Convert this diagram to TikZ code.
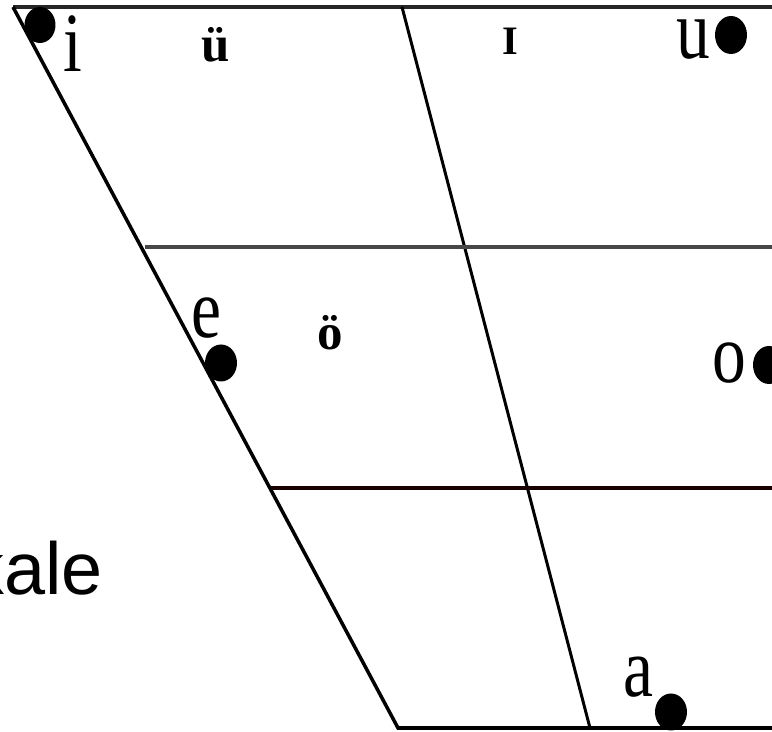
\documentclass[tikz,border=0pt]{standalone}
\usepackage{fontspec}
\setsansfont{Liberation Sans}
\newfontfamily\vowelfont{Liberation Serif}
\usetikzlibrary{positioning}
\tikzset{
  edge/.style={line width=2pt, black},
  vowel/.style={inner sep=0pt, anchor=base, font=\vowelfont\fontsize{48}{50}\selectfont},
  rounded/.style={inner sep=0pt, anchor=base, font=\vowelfont\bfseries\fontsize{29}{30}\selectfont},
  vdot/.style={fill=black}
}
\newcommand{\narrow}[1]{\scalebox{0.8}[1]{#1}}

\begin{document}
\begin{tikzpicture}[x=0.02cm, y=-0.02cm]
        \useasboundingbox (0,0) rectangle (772,732);
        % corners of the chart
        \coordinate (tl) at (13,7);
        \coordinate (tr) at (772,7);
        \coordinate (bl) at (398,728);
        \coordinate (br) at (772,728);
        \coordinate (mt) at (402,7);
        \coordinate (mb) at (590,728);
        \coordinate (hl1) at (145,247);
        \coordinate (hr1) at (772,247);
        \coordinate (hl2) at (271,488);
        \coordinate (hr2) at (772,488);
        % frame
        \draw[edge, line width=2.4pt, black!85] (tr) -- (tl);
        \draw[edge] (tl) -- (bl) -- (br);
        \draw[edge, line width=1.7pt] (mt) -- (mb);
        \draw[edge, line width=2.4pt, black!72] (hl1) -- (hr1);
        \draw[edge, line width=2.4pt, black!75!red!40!black] (hl2) -- (hr2);

        % dots
        \fill[vdot] (40,25) ellipse [x radius=0.31cm, y radius=0.36cm];
        \fill[vdot] (731,35) ellipse [x radius=0.32cm, y radius=0.38cm];
        \fill[vdot] (221,363) ellipse [x radius=0.32cm, y radius=0.37cm];
        \fill[vdot] (769,365) ellipse [x radius=0.32cm, y radius=0.38cm];
        \fill[vdot] (671,712) ellipse [x radius=0.32cm, y radius=0.37cm];

        % vowels
        \node[vowel] (i) at (73,72) {\narrow{i}};
        \node[vowel] (u) at (693,59) {\narrow{u}};
        \node[vowel] (e) at (206,338) {\narrow{e}};
        \node[vowel] (o) at (729,383) {\narrow{o}};
        \node[vowel] (a) at (638,697) {\narrow{a}};
        \node[rounded] (ue) at (216,62) {ü};
        \node[rounded] (oe) at (330,350) {ö};
        \node[rounded, font=\vowelfont\bfseries\fontsize{23}{24}\selectfont] (ii) at (510,55) {I};

        \node[inner sep=0pt, anchor=base east, font=\sffamily\fontsize{42}{44}\selectfont] (label) at (103,595) {kale};
      \end{tikzpicture}
\end{document}
